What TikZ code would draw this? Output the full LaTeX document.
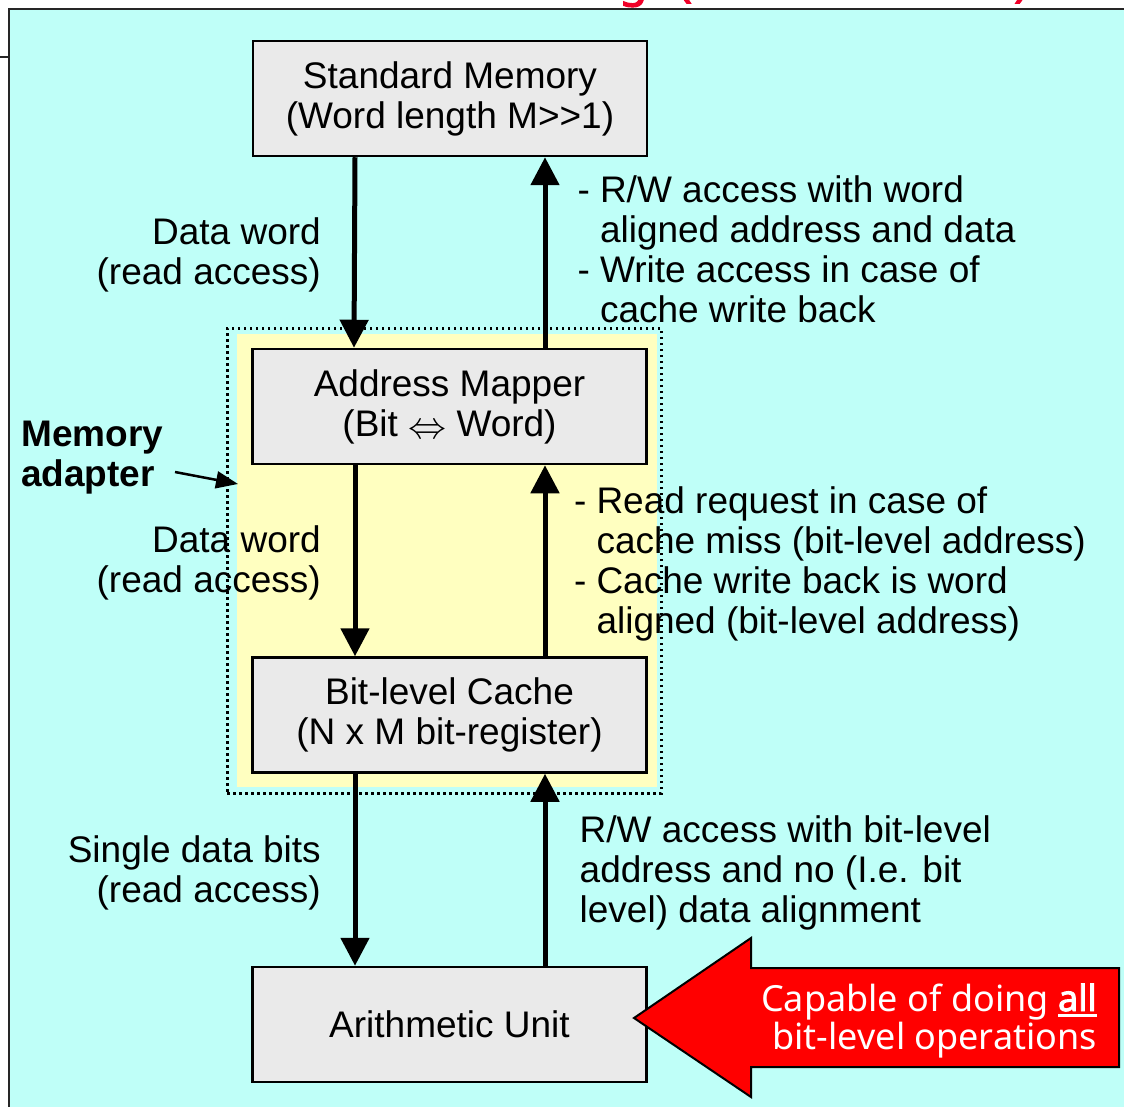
\documentclass[tikz,border=0pt]{standalone}
\usepackage{fontspec}
\setmainfont{Liberation Sans}
\newfontfamily\notosans{Noto Sans}
\newfontfamily\notosansbold{Noto Sans}[FakeBold=2.5]
\usetikzlibrary{arrows.meta}
\definecolor{panelcyan}{RGB}{191,255,248}
\definecolor{adapteryellow}{RGB}{255,255,192}
\definecolor{boxgray}{RGB}{234,234,234}
\definecolor{titlered}{RGB}{240,0,40}
% multi-line labels whose reference point is the first baseline
\newcommand\rlines[1]{\begin{tabular}[t]{@{}r@{}}#1\end{tabular}}
\newcommand\llines[1]{\begin{tabular}[t]{@{}l@{}}#1\end{tabular}}
\newcommand\dashlines[1]{\begin{tabular}[t]{@{}l@{\hspace{10pt}}l@{}}#1\end{tabular}}
% bold word with a heavy underline
\newcommand\thickul[1]{\setbox0\hbox{\notosansbold #1}\rlap{\rule[-6pt]{\wd0}{3pt}}\box0}
% wide double arrow used in the mapper label
\newcommand\bitword{\raisebox{-2pt}{\resizebox{38pt}{!}{$\Leftrightarrow$}}}
\begin{document}
\begin{tikzpicture}[x=1pt,y=-1pt,
  every node/.style={font=\fontsize{37}{40}\selectfont, inner sep=0pt},
  block/.style={draw=black, line width=2.5pt, fill=boxgray,
    minimum width=394pt, minimum height=115pt, align=center},
  flow/.style={line width=5pt, -{Triangle[length=28pt,width=28pt]}},
  note/.style={text=black},
  titlebit/.style={anchor=base west, text=titlered,
    font=\notosansbold\fontsize{46}{50}\selectfont}]
\useasboundingbox (0,0) rectangle (1124,1107);

% slide panel
\draw[fill=panelcyan, draw=black!85, line width=2.5pt] (9,9) rectangle (1140,1125);
\draw[line width=2pt, draw=black!85] (0,57) -- (9,57);

% title descenders peeking above the panel
\node[titlebit] (titleg) at (619,-4) {g};
\node[titlebit] (titlelp) at (678,-4) {(};
\node[titlebit] (titlerp) at (1014,-4) {)};

% memory adapter region
\fill[adapteryellow] (237,334) rectangle (657,787);
\node[draw=black, line width=3pt, dash pattern=on 2.5pt off 3.5pt,
  minimum width=434pt, minimum height=465pt] (adapter) at (444,560.5) {};

% blocks
\node[block] (stdmem)  at (450,98.5)  {Standard Memory\\(Word length M>\kern0pt>1)};
\node[block] (addrmap) at (449.5,406.5) {Address Mapper\\(Bit \bitword{} Word)};
\node[block] (cache)   at (449.5,715) {Bit-level Cache\\(N x M bit-register)};
\node[block] (arith)   at (449.5,1024.5) {Arithmetic Unit};

% data paths
\draw[flow] ([xshift=-95pt]stdmem.south)  -- ([xshift=-95.5pt]addrmap.north);
\draw[flow] ([xshift=95.5pt]addrmap.north) -- ([xshift=95pt]stdmem.south);
\draw[flow] ([xshift=-94.5pt]addrmap.south) -- ([xshift=-94.5pt]cache.north);
\draw[flow] ([xshift=95.5pt]cache.north) -- ([xshift=95.5pt]addrmap.south);
\draw[flow] ([xshift=-94.5pt]cache.south) -- ([xshift=-94.5pt]arith.north);
\draw[flow] ([xshift=95.5pt]arith.north) -- ([xshift=95.5pt]cache.south);

% left-hand labels
\node[note, anchor=base east] (rd1) at (321,245) {\rlines{Data word\\(read access)}};
\node[note, anchor=base east] (rd2) at (321,552) {\rlines{Data word\\(read access)}};
\node[note, anchor=base east] (rd3) at (321,862) {\rlines{Single data bits\\(read access)}};

% right-hand labels
\node[note, anchor=base west] (wr1) at (577.5,203) {\dashlines{- & R/W access with word\\ & aligned address and data\\- & Write access in case of\\ & cache write back}};
\node[note, anchor=base west] (wr2) at (574,513) {\dashlines{- & Read request in case of\\ & cache miss (bit-level address)\\- & Cache write back is word\\ & aligned (bit-level address)}};
\node[note, anchor=base west] (wr3) at (579.5,842) {\llines{R/W access with bit-level\\address and no (I.e. bit\\level) data alignment}};

% memory adapter callout
\node[note, anchor=base west, font=\bfseries\fontsize{37}{40}\selectfont] (madapter) at (21,446) {\llines{Memory\\adapter}};
\coordinate (ma-tail) at (175,472);
\coordinate (ma-tip) at (238,484);
\draw[line width=2.5pt, -{Triangle[length=22pt,width=17pt]}] (ma-tail) -- (ma-tip);

% capability arrow
\draw[fill=red, draw=black, line width=2pt, line join=miter]
  (634,1018) -- (751,938) -- (751,968) -- (1119,968) -- (1119,1067)
  -- (751,1067) -- (751,1097) -- cycle;
\node[anchor=base east, text=white, font=\notosans\fontsize{36}{38}\selectfont] (capable) at (1097,1011)
  {\rlines{Capable of doing \thickul{all}\\bit-level operations}};
\end{tikzpicture}
\end{document}
